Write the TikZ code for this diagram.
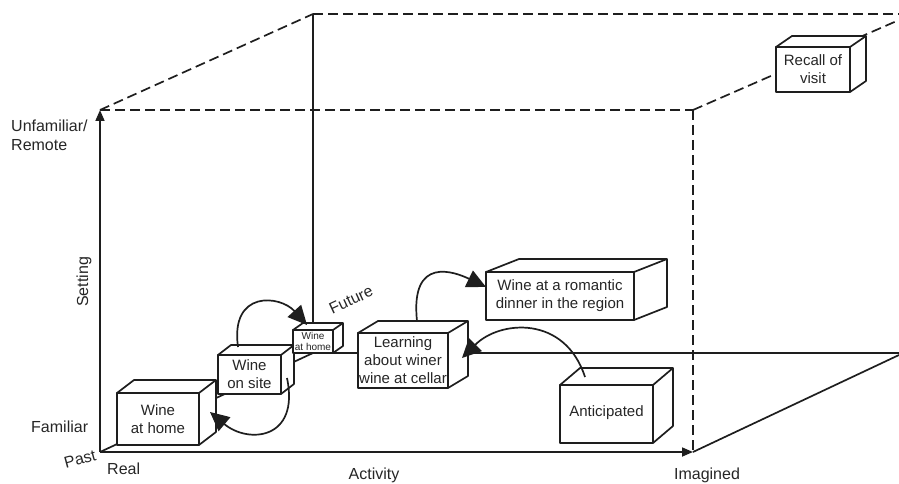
\documentclass[tikz,border=0pt]{standalone}
\usepackage{fontspec}
\setmainfont{Liberation Sans}
\usetikzlibrary{arrows.meta,calc}
\definecolor{ink}{HTML}{1E1E1E}
\definecolor{txt}{HTML}{262626}
\tikzset{
  axisline/.style={draw=ink, line width=1.7pt},
  dashline/.style={draw=ink, line width=1.7pt, dash pattern=on 10pt off 5pt},
  boxline/.style={draw=ink, line width=1.7pt, fill=white, line join=round},
  boxface/.style={boxline, rectangle, inner sep=0pt, outer sep=0pt, anchor=north west, align=center, text=txt,
     font=\fontsize{15}{18}\selectfont},
  smalltext/.style={font=\fontsize{10}{11}\selectfont},
  lbl/.style={text=txt, font=\fontsize{16}{19}\selectfont, inner sep=0pt},
  flow/.style={draw=ink, line width=1.7pt, -{Triangle[length=19pt,width=18pt]}},
  axarrow/.style={axisline, -{Triangle[length=11pt,width=9pt]}}
}
% [style], name, x1, y1, x2, y2, dx, dy, text
\newcommand{\threedbox}[9][]{%
  \node[boxface, #1, minimum width={(#5-#3)*1pt}, minimum height={(#6-#4)*1pt}] (#2) at (#3,#4) {#9};
  \draw[boxline] (#2.north west) -- ++(#7,#8) -- ($(#2.north east)+(#7,#8)$) -- ($(#2.south east)+(#7,#8)$)
     -- (#2.south east) -- (#2.north east) -- cycle;
  \draw[boxline] (#2.north east) -- ++(#7,#8);
}
\begin{document}
\begin{tikzpicture}[x=1pt,y=-1pt]
\useasboundingbox (0,0) rectangle (899,484);
% frame coordinates
\coordinate (O) at (100,452);
\coordinate (Top) at (100,110);
\coordinate (Xend) at (693,452);
\coordinate (Bk) at (313,353);
\coordinate (BkTop) at (313,14);
\coordinate (BkTR) at (899,14);
\coordinate (BkBR) at (899,353);
\coordinate (FrTR) at (693,110);
\coordinate (BkR2) at (899,355);
\coordinate (DashEnd) at (899,20);
% back / dashed frame
\draw[dashline] (Top) -- (BkTop);
\draw[dashline] (BkTop) -- (BkTR);
\draw[dashline] (Top) -- (FrTR);
\draw[dashline] (FrTR) -- (Xend);
\draw[dashline] (FrTR) -- (DashEnd);
\draw[axisline] (BkTop) -- (Bk);
\draw[axisline] (Bk) -- (BkBR);
\draw[axisline] (Xend) -- (BkR2);
\draw[axisline] (O) -- (Bk);
% axes with arrows
\draw[axarrow] (O) -- (Top);
\draw[axarrow] (O) -- (Xend);
% boxes
\threedbox{b1}{117}{393}{199}{445}{17}{-13}{Wine\\at home}
\threedbox{b2}{218}{355}{281}{394}{13}{-10}{Wine\\on site}
\threedbox[smalltext]{b3}{293}{330}{333}{353}{10}{-7}{Wine\\at home}
\threedbox{b4}{358}{333}{448}{388}{20}{-12}{Learning\\about winer\\wine at cellar}
\threedbox{b5}{486}{272}{634}{320}{33}{-13}{Wine at a romantic\\dinner in the region}
\threedbox{b6}{560}{385}{653}{443}{20}{-17}{\raisebox{5pt}{Anticipated}}
\threedbox{b7}{776}{47}{850}{92}{16}{-11}{Recall of\\visit}
% flows
\draw[flow] ($(b2.south east)+(6,-16)$) .. controls (300,440) and (248,444) .. ($(b1.north east)+(11,19)$);
\draw[flow] ($(b2.north west)+(20,-8)$) .. controls (230,290) and (280,295) .. ($(b3.north west)+(14,-5)$);
\draw[flow] ($(b4.north west)+(59,-12)$) .. controls (410,255) and (455,272) .. ($(b5.north west)+(0,15)$);
\draw[flow] ($(b6.north west)+(25,-8)$) .. controls (565,315) and (500,320) .. ($(b4.north east)+(14,25)$);
% labels
\node[lbl, anchor=west, align=left] (unf) at (11,135) {Unfamiliar/\\Remote};
\node[lbl, rotate=90] (set) at (84,282) {Setting};
\node[lbl, anchor=west] (fam) at (31,427) {Familiar};
\node[lbl, rotate=15] (past) at (80,459) {Past};
\node[lbl, anchor=west] (real) at (107,469) {Real};
\node[lbl] (act) at (374,475) {Activity};
\node[lbl] (ima) at (707,475) {Imagined};
\node[lbl, rotate=25] (fut) at (351,300) {Future};
\end{tikzpicture}
\end{document}
